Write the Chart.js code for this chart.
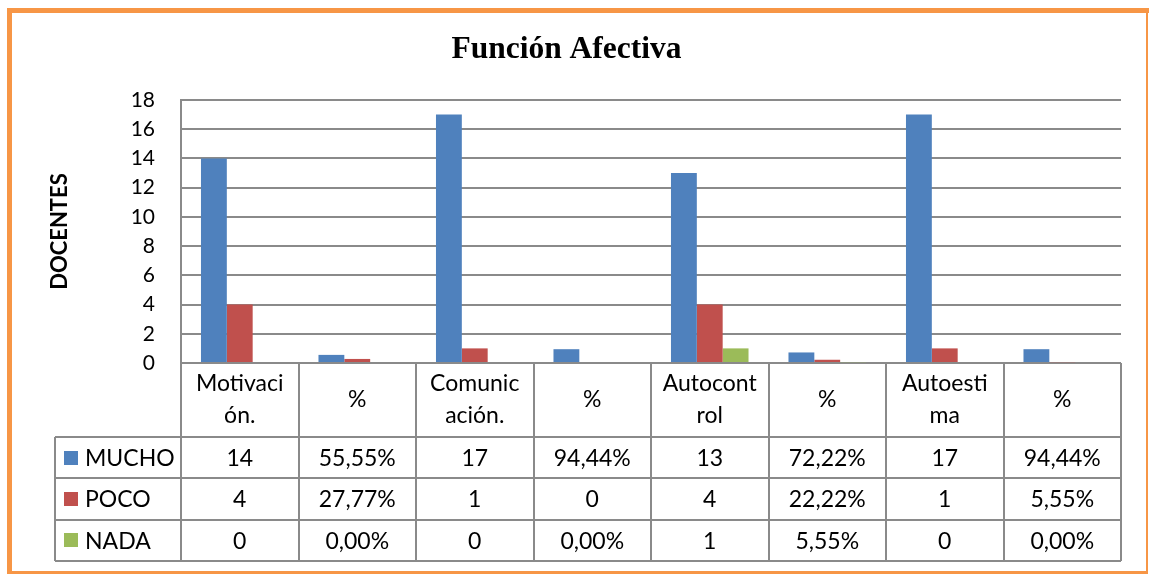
<!DOCTYPE html>
<html>
<head>
<meta charset="utf-8">
<script src="https://cdn.jsdelivr.net/npm/chart.js@4"></script>
<style>
  body { margin: 0; background: #fff; }
  #wrap { width: 1149px; height: 574px; }
</style>
</head>
<body>
<div id="wrap"><canvas id="myChart" width="1149" height="574"></canvas></div>
<script>
  // data
  const categories = [['Motivaci', 'ón.'], ['%'], ['Comunic', 'ación.'], ['%'], ['Autocont', 'rol'], ['%'], ['Autoesti', 'ma'], ['%']];
  const mucho = [14, 0.5555, 17, 0.9444, 13, 0.7222, 17, 0.9444];
  const poco = [4, 0.2777, 1, 0, 4, 0.2222, 1, 0.0555];
  const nada = [0, 0, 0, 0, 1, 0.0555, 0, 0];
  const muchoText = ['14', '55,55%', '17', '94,44%', '13', '72,22%', '17', '94,44%'];
  const pocoText = ['4', '27,77%', '1', '0', '4', '22,22%', '1', '5,55%'];
  const nadaText = ['0', '0,00%', '0', '0,00%', '1', '5,55%', '0', '0,00%'];
  const yTicks = [0, 2, 4, 6, 8, 10, 12, 14, 16, 18];

  const gridColor = '#8a8a8a';
  const tableFont = '23px Lato';

  // orange frame + white background
  const framePlugin = {
    id: 'frame',
    beforeDraw(chart) {
      const ctx = chart.ctx;
      ctx.save();
      ctx.fillStyle = '#fff';
      ctx.fillRect(0, 0, chart.width, chart.height);
      ctx.fillStyle = '#F79646';
      ctx.fillRect(7, 8, 1142, 5);
      ctx.fillRect(7, 8, 5, 566);
      ctx.fillRect(1146, 8, 2, 566);
      ctx.fillRect(7, 571, 1141, 3);
      ctx.restore();
    }
  };

  // data table under the plot, columns taken from the x scale
  const tablePlugin = {
    id: 'dataTable',
    afterDraw(chart) {
      const ctx = chart.ctx;
      const x = chart.scales.x;
      const n = categories.length;
      const colW = x.width / n;
      const top = chart.chartArea.bottom;
      const headerH = 74;
      const rowTop = top + headerH;
      const rowH = 41.3;
      const legendLeft = 55;
      const right = x.right;
      const rows = [
        { name: 'MUCHO', color: '#4F81BD', text: muchoText },
        { name: 'POCO', color: '#C0504D', text: pocoText },
        { name: 'NADA', color: '#9BBB59', text: nadaText }
      ];

      ctx.save();
      ctx.strokeStyle = gridColor;
      ctx.lineWidth = 2;
      ctx.beginPath();
      // vertical lines
      for (let i = 0; i <= n; i++) {
        const px = Math.round(x.left + i * colW);
        ctx.moveTo(px, top);
        ctx.lineTo(px, rowTop + rows.length * rowH);
      }
      ctx.moveTo(legendLeft, rowTop);
      ctx.lineTo(legendLeft, rowTop + rows.length * rowH);
      // horizontal lines
      for (let r = 0; r <= rows.length; r++) {
        const py = Math.round(rowTop + r * rowH);
        ctx.moveTo(legendLeft, py);
        ctx.lineTo(right, py);
      }
      ctx.stroke();

      ctx.fillStyle = '#000';
      ctx.font = tableFont;
      ctx.textAlign = 'center';
      ctx.textBaseline = 'middle';
      // header labels
      categories.forEach((lab, i) => {
        const cx = x.getPixelForValue(i);
        const mid = top + headerH / 2;
        if (lab.length === 1) {
          ctx.fillText(lab[0], cx, mid);
        } else {
          ctx.fillText(lab[0], cx, mid - 16);
          ctx.fillText(lab[1], cx, mid + 16);
        }
      });
      // rows
      rows.forEach((row, r) => {
        const cy = rowTop + r * rowH + rowH / 2;
        ctx.fillStyle = row.color;
        ctx.fillRect(64, Math.round(cy - 7), 14, 14);
        ctx.fillStyle = '#000';
        ctx.textAlign = 'left';
        ctx.fillText(row.name, 85, cy + 1);
        ctx.textAlign = 'center';
        row.text.forEach((t, i) => {
          ctx.fillText(t, x.getPixelForValue(i), cy + 1);
        });
      });
      ctx.restore();
    }
  };

  const data = {
    labels: categories.map(c => c.join('')),
    datasets: [
      { label: 'MUCHO', data: mucho, backgroundColor: '#4F81BD' },
      { label: 'POCO', data: poco, backgroundColor: '#C0504D' },
      { label: 'NADA', data: nada, backgroundColor: '#9BBB59' }
    ]
  };

  const config = {
    type: 'bar',
    data: data,
    options: {
      responsive: false,
      animation: false,
      layout: { padding: { left: 12, right: 28, top: 0, bottom: 0 } },
      datasets: { bar: { categoryPercentage: 0.66, barPercentage: 1 } },
      plugins: {
        legend: { display: false },
        tooltip: { enabled: false },
        title: {
          display: true,
          text: 'Función Afectiva',
          color: '#000',
          font: { family: '"Liberation Serif"', size: 31.5, weight: 'bold' },
          padding: { top: 31, bottom: 31.2 }
        }
      },
      scales: {
        x: {
          ticks: { display: false },
          grid: { display: false },
          border: { display: false },
          afterFit: s => { s.height = 211; }
        },
        y: {
          min: 0,
          max: 18,
          afterBuildTicks: s => { s.ticks = yTicks.map(v => ({ value: v })); },
          ticks: {
            color: '#000',
            font: { family: 'Lato', size: 21 },
            padding: 26
          },
          grid: { color: gridColor, lineWidth: 2, drawTicks: false },
          border: { color: gridColor, width: 2 },
          title: {
            display: true,
            text: 'DOCENTES',
            color: '#000',
            font: { family: 'Lato', size: 22, weight: 'bold' },
            padding: { top: 35, bottom: 0 }
          },
          afterFit: s => { s.width = 169; }
        }
      }
    },
    plugins: [framePlugin, tablePlugin]
  };

  const myChart = new Chart(document.getElementById('myChart'), config);
</script>
</body>
</html>
